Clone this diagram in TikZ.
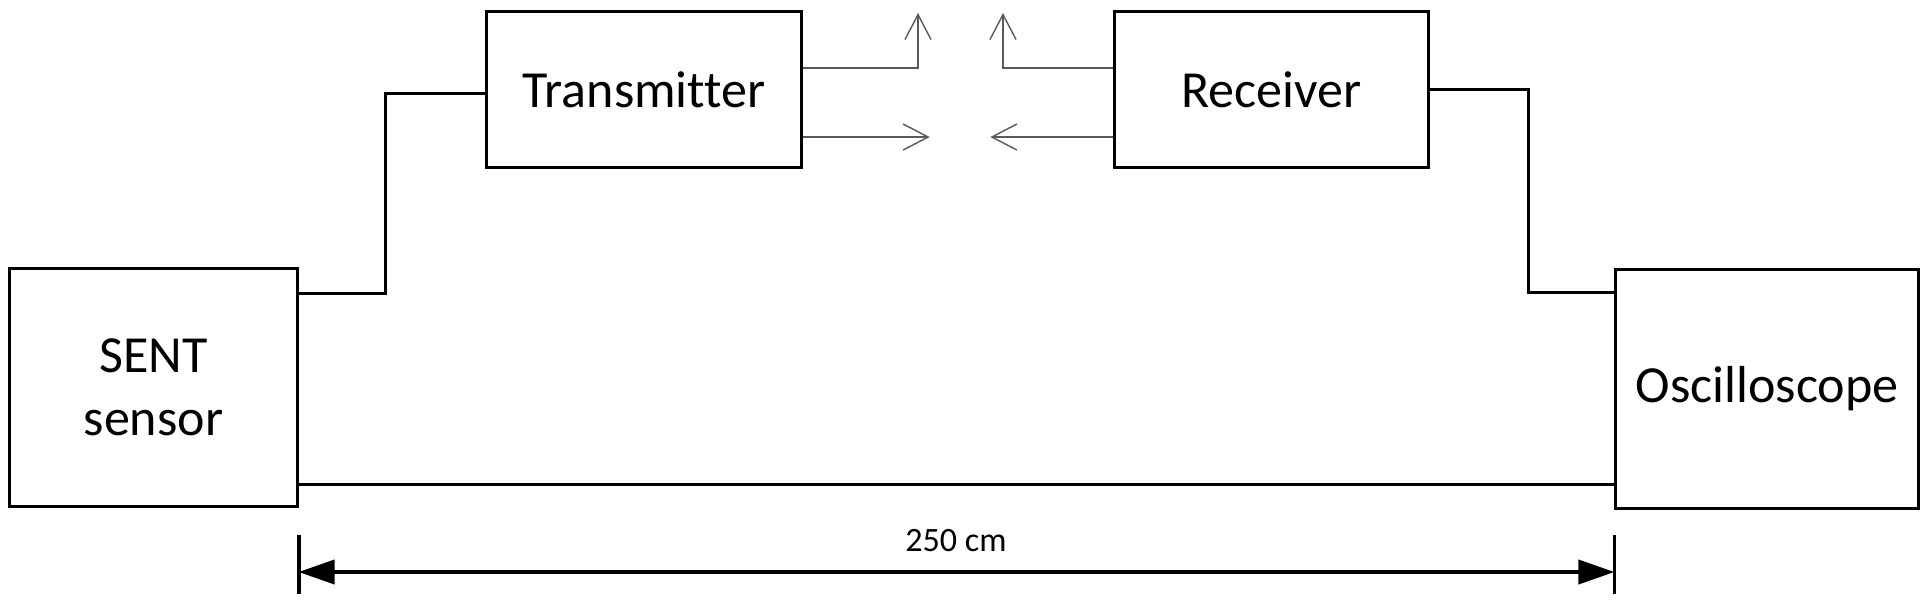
\documentclass[tikz,border=0pt]{standalone}
\usepackage{fontspec}
\setmainfont{Carlito}[Ligatures=NoCommon]
\usetikzlibrary{arrows.meta}
\begin{document}
\begin{tikzpicture}[x=0.01cm, y=-0.01cm,
    box/.style={draw, line width=0.85pt, inner sep=0pt, align=center, font=\fontsize{14.8}{18}\selectfont},
    wire/.style={line width=0.85pt},
    radio/.style={line width=0.4pt, draw=black!65, -{Straight Barb[length=0.25cm,width=0.26cm,line width=0.4pt]}},
    dim/.style={line width=1.1pt, {Triangle[length=0.36cm,width=0.24cm]}-{Triangle[length=0.36cm,width=0.24cm]}}]
\useasboundingbox (0,0) rectangle (1927,605);

\node[box, minimum width=2.87cm, minimum height=2.37cm] (sensor) at (153.5,387.5) {SENT\\sensor};
\node[box, minimum width=3.14cm, minimum height=1.55cm] (tx) at (644,89.5) {Transmitter};
\node[box, minimum width=3.13cm, minimum height=1.55cm] (rx) at (1271.5,89.5) {Receiver};
\node[box, minimum width=3.02cm, minimum height=2.38cm] (scope) at (1767,389) {Oscilloscope};

% cables
\draw[wire] ([yshift=-0.26cm]sensor.north east) -| ([xshift=-1cm,yshift=-0.035cm]tx.west) -- ([yshift=-0.035cm]tx.west);
\draw[wire] (rx.east) -| ([xshift=-0.86cm,yshift=-0.24cm]scope.north west) -- ([yshift=-0.24cm]scope.north west);
\coordinate (low) at ([yshift=0.23cm]sensor.south east);
\draw[wire] (low) -- (scope.west |- low);

% radio link
\coordinate (txup) at (918,13);
\coordinate (rxup) at (1003,13);
\draw[radio] ([yshift=0.215cm]tx.east) -| (txup);
\draw[radio] ([yshift=-0.475cm]tx.east) -- ++(1.27cm,0);
\draw[radio] ([yshift=0.215cm]rx.west) -| (rxup);
\draw[radio] ([yshift=-0.475cm]rx.west) -- ++(-1.23cm,0);

% length
\foreach \a in {sensor.south east,scope.south west}
{
    \draw[line width=1.1pt] (\a |- 0,535) -- (\a |- 0,594);
}
\coordinate (d1) at (sensor.south east |- 0,572);
\coordinate (d2) at (scope.south west |- 0,572);
\draw[dim] (d1) -- (d2);
\node[font=\fontsize{9.7}{12}\selectfont] (len) at (956,541) {250 cm};

\end{tikzpicture}
\end{document}
